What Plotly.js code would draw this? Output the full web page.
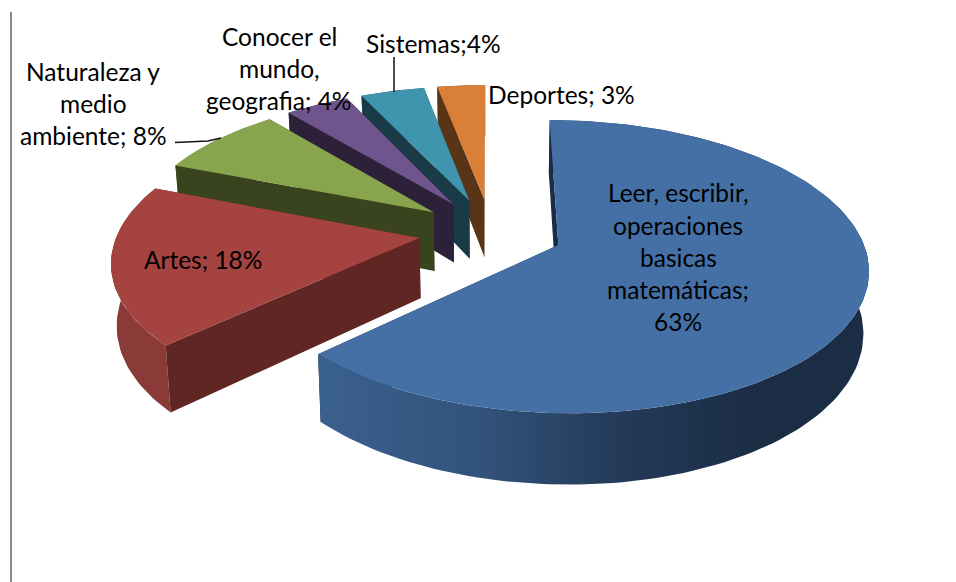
<!DOCTYPE html>
<html><head><meta charset="utf-8">
<script src="https://cdn.plot.ly/plotly-3.0.1.min.js"></script>
<style>html,body{margin:0;padding:0;background:#fff}#c{width:956px;height:582px}</style>
</head><body><div id="c"></div>
<script>
const categories = ["Leer, escribir, operaciones basicas matemáticas","Artes","Naturaleza y medio ambiente","Conocer el mundo, geografia","Sistemas","Deportes"];
const values = [63,18,8,4,4,3];
const topColors = ["#4570A6","#A44340","#88A44C","#6F548D","#3F94AE","#D97F38"];
const edgeColors = ["#1B2C45","#602624","#39431D","#2C2138","#183B47","#5A3417"];
const rimColors = ["#2B4668","#8A3A37","#5C6E33","#4A385F","#2A6375","#91552A"];
const blueRimScale = [[0,"#3B618F"],[0.3,"#31527A"],[0.55,"#233A58"],[0.8,"#1B2C45"],[1,"#1B2C45"]];
const labelLines = [
  ["Leer, escribir,",678,192],["operaciones",678,225],["basicas",678,257],["matemáticas;",678,289],["63%",678,321],
  ["Artes; 18%",203,259],
  ["Naturaleza y",93,71],["medio",93,103],["ambiente; 8%",93,135],
  ["Conocer el",279,36],["mundo,",279,68],["geografia; 4%",279,100],
  ["Sistemas;4%",433,43],
  ["Deportes; 3%",561,94]
];

// projection of the tilted, exploded disc onto the page
const cx=491, cy=231.6, A=301.5, B=139.5, persp=0.145, explode=0.24, depth=60, shrink=0.985;
const rad=d=>d*Math.PI/180;
function proj(U,V,lower){
  const d=1+persp*V;
  const x=cx+A*U/d, y=cy-B*V/d;
  return lower ? [cx+(x-cx)*shrink, y+depth/d] : [x,y];
}
const traces=[];
function poly(pts,color,extra){
  traces.push(Object.assign({type:"scatter",mode:"lines",x:pts.map(p=>p[0]),y:pts.map(p=>p[1]),
    fill:"toself",fillcolor:color,line:{width:0,color:color},hoverinfo:"skip",showlegend:false},extra||{}));
}
const total=values.reduce((a,b)=>a+b,0);
let cum=0;
const slices=values.map((v,i)=>{const s=cum/total*360;cum+=v;return {i,s,e:cum/total*360};});
slices.slice().reverse().forEach(({i,s,e})=>{
  const mid=rad((s+e)/2), ou=explode*Math.sin(mid), ov=explode*Math.cos(mid);
  const arc=(lower)=>{const out=[];const n=Math.max(8,Math.round((e-s)/1.5));
    for(let k=0;k<=n;k++){const t=rad(s+(e-s)*k/n);out.push(proj(ou+Math.sin(t),ov+Math.cos(t),lower));}
    return out;};
  const topArc=arc(false), lowArc=arc(true);
  const apexT=proj(ou,ov,false), apexL=proj(ou,ov,true);
  poly([apexT,topArc[topArc.length-1],lowArc[lowArc.length-1],apexL,apexT],edgeColors[i]);
  const rim=topArc.concat(lowArc.slice().reverse());rim.push(topArc[0]);
  if(i===0) poly(rim,rimColors[i],{fillgradient:{type:"horizontal",colorscale:blueRimScale}});
  else poly(rim,rimColors[i]);
  poly([apexT,topArc[0],lowArc[0],apexL,apexT],edgeColors[i]);
  poly([apexT].concat(topArc,[apexT]),topColors[i]);
});
// leader lines and page rule
const lead=(xs,ys,c,w)=>traces.push({type:"scatter",mode:"lines",x:xs,y:ys,line:{color:c,width:w},hoverinfo:"skip",showlegend:false});
lead([394,394],[57,92],"#111",1.5);
lead([175,208,221],[142.5,141,138],"#111",1.5);
lead([11,11],[12,582],"#8a8a8a",2);

const annotations=labelLines.map(l=>({x:l[1],y:l[2],text:l[0],xref:"x",yref:"y",showarrow:false,xanchor:"center",yanchor:"middle",
  font:{family:"Lato, Carlito, Calibri, sans-serif",size:24.5,color:"#000"}}));
Plotly.newPlot("c",traces,{
  width:956,height:582,margin:{l:0,r:0,t:0,b:0},paper_bgcolor:"#fff",plot_bgcolor:"#fff",showlegend:false,
  xaxis:{range:[0,956],visible:false,fixedrange:true},
  yaxis:{range:[582,0],visible:false,fixedrange:true},
  annotations
},{displayModeBar:false,staticPlot:true});
</script></body></html>
